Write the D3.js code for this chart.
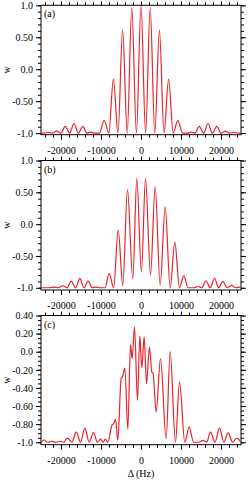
<!DOCTYPE html>
<html>
<head>
<meta charset="utf-8">
<script src="https://cdn.jsdelivr.net/npm/d3@7"></script>
<style>
  body { margin: 0; background: #fff; }
  svg text { font-family: "Liberation Serif", "DejaVu Serif", serif; font-size: 10px; fill: #000; }
</style>
</head>
<body>
<div id="container"></div>
<script>
/* CONSTANTS AND GLOBALS */
const width = 248,
  height = 480,
  left = 41,
  right = 241;

/* DATA */
// panel (a)
const freqA = [-25000, -24200, -23200, -22200, -21100, -20000, -18950, -17850, -16750, -15650, -14550, -13500, -12550, -11700, -10400,
  -9200, -8050, -6900, -5750, -4600, -3450, -2300, -1150, 0,
  1150, 2300, 3450, 4600, 5750, 6900, 8050, 9200,
  10400, 11700, 12550, 13500, 14550, 15650, 16750, 17850, 18950, 20000, 21100, 22200, 23200, 24200, 25000];
const wA = [-1.0, -1.0, -0.99, -1.0, -0.97, -1.0, -0.895, -1.0, -0.85, -1.0, -0.895, -1.0, -0.985, -1.0, -1.0,
  -0.80, -1.0, -0.155, -1.0, 0.615, -1.0, 0.96, -1.0, 1.0,
  -1.0, 0.96, -1.0, 0.615, -1.0, -0.155, -1.0, -0.80,
  -1.0, -1.0, -0.985, -1.0, -0.895, -1.0, -0.85, -1.0, -0.895, -1.0, -0.97, -1.0, -0.99, -1.0, -1.0];

// panel (b)
const freqB = [-25000, -22800, -21800, -20700, -19600, -18500, -17450, -16350, -15300, -14250, -13200, -12200, -11200, -10300, -9000,
  -7950, -6850, -5700, -4550, -3380, -2050, -1050, 100, 1130, 2380, 3540, 4790, 6040, 7290, 8460, 9630,
  10710, 11750, 13200, 14200, 15200, 16220, 17300, 18380, 19420, 20460, 21550, 22620, 23700, 24600, 25000];
const wB = [-1.0, -1.0, -0.99, -1.0, -0.968, -1.0, -0.895, -1.0, -0.853, -1.0, -0.895, -1.0, -0.99, -1.0, -1.0,
  -0.775, -1.0, -0.093, -0.968, 0.546, -0.864, 0.72, -0.75, 0.72, -0.80, 0.588, -0.958, 0.273, -1.0, -0.287, -1.0,
  -0.81, -1.0, -1.0, -0.98, -1.0, -0.89, -1.0, -0.85, -1.0, -0.90, -1.0, -0.963, -1.0, -0.99, -1.0];

// panel (c)
const freqC = [-25000, -24200, -23300, -22300, -21200, -20200, -19300, -18400, -17300, -16200, -15100, -14050, -12950, -11900, -10900,
  -10050, -9500, -8900, -8300, -7200, -6900, -6375, -5800, -4950, -4600, -4040, -3290, -2625, -2210, -1625, -875,
  -290, 200, 790, 1375, 2125, 2710, 3000, 3790, 4875, 6290, 7290, 8625, 9625, 10960, 12040, 13150,
  14500, 15450, 16400, 17380, 18500, 19620, 20700, 21800, 22900, 23960, 25000];
const wC = [-1.0, -0.975, -1.0, -0.99, -1.0, -0.99, -1.0, -0.955, -1.0, -0.889, -1.0, -0.845, -1.0, -0.893, -1.0,
  -0.965, -1.0, -0.965, -1.0, -0.806, -0.80, -0.746, -0.978, -0.29, -0.275, -0.18, -0.856, 0.078, -0.077, 0.273, -0.536,
  0.174, -0.18, 0.163, -0.353, 0.052, -0.225, -0.235, -0.665, -0.077, -0.96, 0.0, -1.0, -0.334, -1.0, -0.83, -1.0,
  -1.0, -0.98, -1.0, -0.889, -1.0, -0.845, -1.0, -0.896, -1.0, -0.955, -1.0];

// ticks
const xTicks = [-20000, -10000, 0, 10000, 20000];
const xLabels = ["-20000", "-10000", "0", "10000", "20000"];
const xMinor = d3.range(-24000, 24001, 2000);
const yTicksAB = [1.0, 0.5, 0.0, -0.5, -1.0];
const yLabelsAB = ["1.0", "0.50", "0.0", "-0.50", "-1.0"];
const yMinorAB = d3.range(-10, 11, 1).map(d => d / 10);
const yTicksC = [0.4, 0.2, 0.0, -0.2, -0.4, -0.6, -0.8, -1.0];
const yLabelsC = ["0.40", "0.20", "0.0", "-0.20", "-0.40", "-0.60", "-0.80", "-1.0"];
const yMinorC = d3.range(-20, 9, 1).map(d => d / 20);

const panels = [
  { tag: "(a)", freq: freqA, w: wA, dom: [-1.025, 1.0], top: 5.3, bottom: 134.7, yt: yTicksAB, yl: yLabelsAB, ym: yMinorAB },
  { tag: "(b)", freq: freqB, w: wB, dom: [-1.035, 1.0], top: 160.5, bottom: 290, yt: yTicksAB, yl: yLabelsAB, ym: yMinorAB },
  { tag: "(c)", freq: freqC, w: wC, dom: [-1.027, 0.4], top: 315.5, bottom: 444.7, yt: yTicksC, yl: yLabelsC, ym: yMinorC }
];

const svg = d3.select("#container")
  .append("svg")
  .attr("width", width)
  .attr("height", height);

const xScale = d3.scaleLinear()
  .domain([-25000, 25000])
  .range([left, right]);

panels.forEach((p, k) => {
  const yScale = d3.scaleLinear().domain(p.dom).range([p.bottom, p.top]);
  const g = svg.append("g");

  // clip
  svg.append("clipPath").attr("id", "clip" + k)
    .append("rect")
    .attr("x", left).attr("y", p.top - 1)
    .attr("width", right - left).attr("height", p.bottom - p.top + 1);

  // axes: major + minor on all four sides, ticks outward
  const addAxis = (axis, tr) => {
    const a = g.append("g").attr("transform", tr).call(axis);
    a.select(".domain").remove();
    a.selectAll("line").attr("stroke", "#000");
    return a;
  };
  addAxis(d3.axisBottom(xScale).tickValues(xTicks).tickSize(5).tickPadding(7).tickFormat((d, i) => xLabels[i]), `translate(0,${p.bottom})`);
  addAxis(d3.axisBottom(xScale).tickValues(xMinor).tickSize(3).tickFormat(""), `translate(0,${p.bottom})`);
  addAxis(d3.axisTop(xScale).tickValues(xTicks).tickSize(4).tickFormat(""), `translate(0,${p.top})`);
  addAxis(d3.axisTop(xScale).tickValues(xMinor).tickSize(3).tickFormat(""), `translate(0,${p.top})`);
  addAxis(d3.axisLeft(yScale).tickValues(p.yt).tickSize(5).tickPadding(3).tickFormat((d, i) => p.yl[i]), `translate(${left},0)`);
  addAxis(d3.axisLeft(yScale).tickValues(p.ym).tickSize(3).tickFormat(""), `translate(${left},0)`);
  addAxis(d3.axisRight(yScale).tickValues(p.yt).tickSize(5).tickFormat(""), `translate(${right},0)`);
  addAxis(d3.axisRight(yScale).tickValues(p.ym).tickSize(3).tickFormat(""), `translate(${right},0)`);
  g.selectAll("text").attr("font-size", 10).attr("font-family", "Liberation Serif");

  // frame
  g.append("rect")
    .attr("x", left).attr("y", p.top)
    .attr("width", right - left).attr("height", p.bottom - p.top)
    .attr("fill", "none").attr("stroke", "#000").attr("stroke-width", 1);

  // curve
  const line = d3.line()
    .x((d, i) => xScale(p.freq[i]))
    .y(d => yScale(d))
    .curve(d3.curveMonotoneX);
  g.append("path")
    .attr("clip-path", `url(#clip${k})`)
    .attr("d", line(p.w))
    .attr("fill", "none")
    .attr("stroke", "#e8232a")
    .attr("stroke-width", 1.2);

  // labels
  g.append("text")
    .attr("x", left + 3).attr("y", p.top + 12)
    .text(p.tag);
  g.append("text")
    .attr("transform", `translate(10,${(p.top + p.bottom) / 2}) rotate(-90)`)
    .attr("text-anchor", "middle")
    .text("w");
});

svg.append("text")
  .attr("x", (left + right) / 2)
  .attr("y", 477)
  .attr("text-anchor", "middle")
  .text("Δ (Hz)");
</script>
</body>
</html>
